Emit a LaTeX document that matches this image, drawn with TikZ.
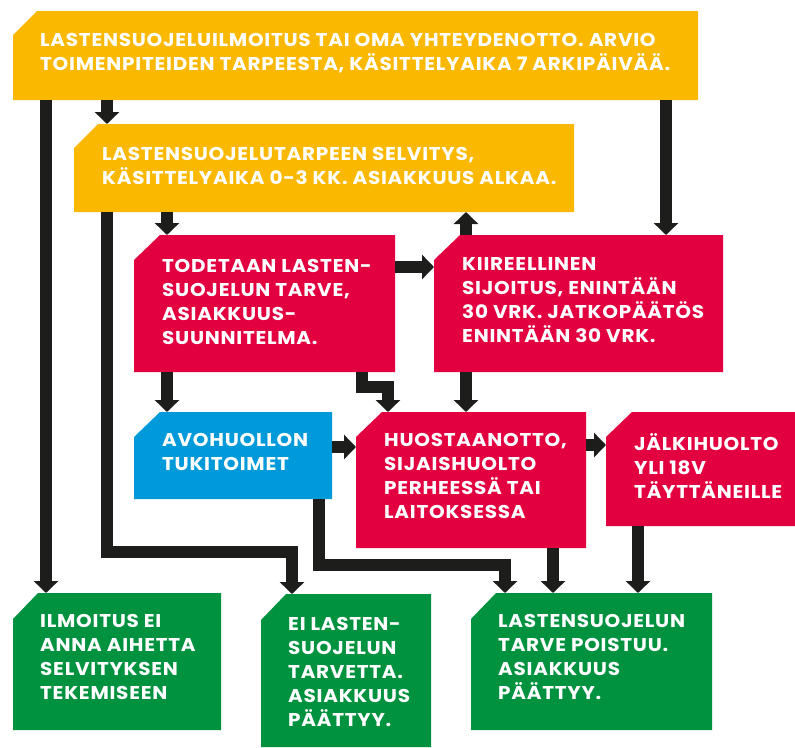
\documentclass[tikz,border=0pt]{standalone}
\usepackage{fontspec}
\setmainfont{Poppins}[LetterSpace=4, FakeStretch=1.08]
\usepackage{tikz}
\usepackage{xcolor}
\usetikzlibrary{arrows.meta}

\definecolor{keltainen}{RGB}{250,185,0}
\definecolor{punainen}{RGB}{227,0,64}
\definecolor{sininen}{RGB}{0,154,218}
\definecolor{vihrea}{RGB}{0,146,63}
\definecolor{musta}{RGB}{29,29,27}

\begin{document}
\begin{tikzpicture}[x=1pt, y=-1pt,
  laatikko/.style={anchor=north west, inner sep=0pt, outer sep=0pt},
  teksti/.style={anchor=north west, align=left, inner sep=0pt, text=white,
    font=\fontsize{18.5}{24}\selectfont\bfseries,
    execute at begin node={\rule{0pt}{19pt}}},
  nuoli/.style={draw=musta, line width=12pt, -{Triangle[width=24pt, length=12pt]}}]
  \useasboundingbox (0,0) rectangle (795,747);
  % Laatikot
  \node[laatikko, minimum width=685pt, minimum height=89pt] (ilmoitus) at (13,11) {};
  \node[laatikko, minimum width=500pt, minimum height=88pt] (selvitys) at (74,124) {};
  \node[laatikko, minimum width=261pt, minimum height=137pt] (todetaan) at (134,235) {};
  \node[laatikko, minimum width=289pt, minimum height=137pt] (kiireellinen) at (434,235) {};
  \node[laatikko, minimum width=198pt, minimum height=87pt] (avohuolto) at (134,412) {};
  \node[laatikko, minimum width=230pt, minimum height=136pt] (huostaanotto) at (356,412) {};
  \node[laatikko, minimum width=189pt, minimum height=114pt] (jalkihuolto) at (606,412) {};
  \node[laatikko, minimum width=208pt, minimum height=137pt] (eiaihetta) at (13,593) {};
  \node[laatikko, minimum width=170pt, minimum height=153pt] (eitarvetta) at (261,594) {};
  \node[laatikko, minimum width=241pt, minimum height=137pt] (poistuu) at (471,593) {};
  % Taustat viistetyllä kulmalla
  \fill[keltainen] ([yshift=-24pt]ilmoitus.north west) -- ([xshift=24pt]ilmoitus.north west) -- (ilmoitus.north east) -- (ilmoitus.south east) -- (ilmoitus.south west) -- cycle;
  \fill[keltainen] ([yshift=-24pt]selvitys.north west) -- ([xshift=24pt]selvitys.north west) -- (selvitys.north east) -- (selvitys.south east) -- (selvitys.south west) -- cycle;
  \fill[punainen] ([yshift=-25pt]todetaan.north west) -- ([xshift=26pt]todetaan.north west) -- (todetaan.north east) -- (todetaan.south east) -- (todetaan.south west) -- cycle;
  \fill[punainen] ([yshift=-25pt]kiireellinen.north west) -- ([xshift=26pt]kiireellinen.north west) -- (kiireellinen.north east) -- (kiireellinen.south east) -- (kiireellinen.south west) -- cycle;
  \fill[sininen] ([yshift=-25pt]avohuolto.north west) -- ([xshift=26pt]avohuolto.north west) -- (avohuolto.north east) -- (avohuolto.south east) -- (avohuolto.south west) -- cycle;
  \fill[punainen] ([yshift=-25pt]huostaanotto.north west) -- ([xshift=26pt]huostaanotto.north west) -- (huostaanotto.north east) -- (huostaanotto.south east) -- (huostaanotto.south west) -- cycle;
  \fill[punainen] ([yshift=-25pt]jalkihuolto.north west) -- ([xshift=26pt]jalkihuolto.north west) -- (jalkihuolto.north east) -- (jalkihuolto.south east) -- (jalkihuolto.south west) -- cycle;
  \fill[vihrea] ([yshift=-26pt]eiaihetta.north west) -- ([xshift=25pt]eiaihetta.north west) -- (eiaihetta.north east) -- (eiaihetta.south east) -- (eiaihetta.south west) -- cycle;
  \fill[vihrea] ([yshift=-26pt]eitarvetta.north west) -- ([xshift=25pt]eitarvetta.north west) -- (eitarvetta.north east) -- (eitarvetta.south east) -- (eitarvetta.south west) -- cycle;
  \fill[vihrea] ([yshift=-26pt]poistuu.north west) -- ([xshift=25pt]poistuu.north west) -- (poistuu.north east) -- (poistuu.south east) -- (poistuu.south west) -- cycle;
  % Tekstit
  \node[teksti] (ilmoitus-t) at ([xshift=27pt,yshift=-22pt]ilmoitus.north west)
    {LASTENSUOJELUILMOITUS TAI OMA YHTEYDENOTTO. ARVIO\\TOIMENPITEIDEN TARPEESTA, KÄSITTELYAIKA 7 ARKIPÄIVÄÄ.};
  \node[teksti] (selvitys-t) at ([xshift=28pt,yshift=-23pt]selvitys.north west)
    {LASTENSUOJELUTARPEEN SELVITYS,\\KÄSITTELYAIKA 0-3 KK. ASIAKKUUS ALKAA.};
  \node[teksti] (todetaan-t) at ([xshift=28pt,yshift=-24pt]todetaan.north west)
    {TODETAAN LASTEN-\\SUOJELUN TARVE,\\ASIAKKUUS-\\SUUNNITELMA.};
  \node[teksti] (kiireellinen-t) at ([xshift=28pt,yshift=-22pt]kiireellinen.north west)
    {KIIREELLINEN\\SIJOITUS, ENINTÄÄN\\30 VRK. JATKOPÄÄTÖS\\ENINTÄÄN 30 VRK.};
  \node[teksti] (avohuolto-t) at ([xshift=28pt,yshift=-21pt]avohuolto.north west)
    {AVOHUOLLON\\TUKITOIMET};
  \node[teksti] (huostaanotto-t) at ([xshift=28pt,yshift=-21pt]huostaanotto.north west)
    {HUOSTAANOTTO,\\SIJAISHUOLTO\\PERHEESSÄ TAI\\LAITOKSESSA};
  \node[teksti] (jalkihuolto-t) at ([xshift=28pt,yshift=-21pt]jalkihuolto.north west)
    {JÄLKIHUOLTO\\YLI 18V\\TÄYTTÄNEILLE};
  \node[teksti] (eiaihetta-t) at ([xshift=27pt,yshift=-21pt]eiaihetta.north west)
    {ILMOITUS EI\\ANNA AIHETTA\\SELVITYKSEN\\TEKEMISEEN};
  \node[teksti] (eitarvetta-t) at ([xshift=27pt,yshift=-23pt]eitarvetta.north west)
    {EI LASTEN-\\SUOJELUN\\TARVETTA.\\ASIAKKUUS\\PÄÄTTYY.};
  \node[teksti] (poistuu-t) at ([xshift=27pt,yshift=-21pt]poistuu.north west)
    {LASTENSUOJELUN\\TARVE POISTUU.\\ASIAKKUUS\\PÄÄTTYY.};
  % Nuolet
  \draw[nuoli] ([xshift=33pt]ilmoitus.south west) -- ([xshift=33pt]eiaihetta.north west);
  \draw[nuoli] ([xshift=94pt]ilmoitus.south west) -- ([xshift=33pt]selvitys.north west);
  \draw[nuoli] ([xshift=653pt]ilmoitus.south west) -- ([xshift=232pt]kiireellinen.north west);
  \draw[nuoli] ([xshift=33pt]selvitys.south west) |- ([xshift=31pt,yshift=42pt]eitarvetta.north west)
    -- ([xshift=31pt]eitarvetta.north west);
  \draw[nuoli] ([xshift=93pt]selvitys.south west) -- ([xshift=33pt]todetaan.north west);
  \draw[nuoli] ([yshift=-32pt]todetaan.north east) -- ([yshift=-32pt]kiireellinen.north west);
  \draw[nuoli] ([xshift=32pt]kiireellinen.north west) -- ([xshift=392pt]selvitys.south west);
  \draw[nuoli] ([xshift=33pt]todetaan.south west) -- ([xshift=33pt]avohuolto.north west);
  \draw[nuoli] ([xshift=228pt]todetaan.south west) |- ([xshift=32pt,yshift=25pt]huostaanotto.north west)
    -- ([xshift=32pt]huostaanotto.north west);
  \draw[nuoli] ([xshift=32pt]kiireellinen.south west) -- ([xshift=110pt]huostaanotto.north west);
  \draw[nuoli] ([yshift=-35pt]avohuolto.north east) -- ([yshift=-35pt]huostaanotto.north west);
  \draw[nuoli] ([yshift=-33pt]huostaanotto.north east) -- ([yshift=-33pt]jalkihuolto.north west);
  \draw[nuoli] ([xshift=185pt]avohuolto.south west) |- ([xshift=34pt,yshift=28pt]poistuu.north west)
    -- ([xshift=34pt]poistuu.north west);
  \draw[nuoli] ([xshift=197pt]huostaanotto.south west) -- ([xshift=82pt]poistuu.north west);
  \draw[nuoli] ([xshift=32pt]jalkihuolto.south west) -- ([xshift=167pt]poistuu.north west);
\end{tikzpicture}
\end{document}
